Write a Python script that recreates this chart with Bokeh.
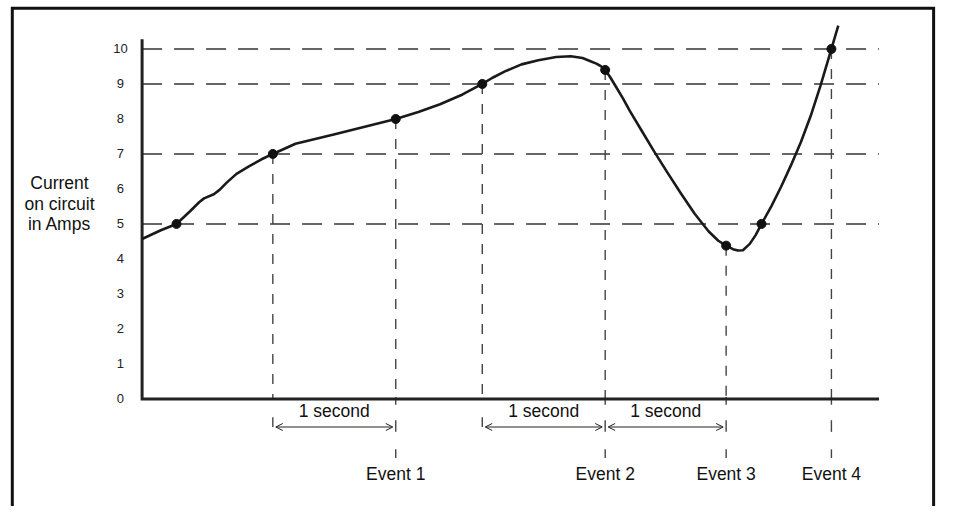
from bokeh.plotting import figure
from bokeh.models import Range1d, Arrow, OpenHead, ColumnDataSource
from bokeh.embed import file_html
from bokeh.resources import INLINE
from bokeh.core.properties import value

# ---------------- data (time in seconds, current in amps) ----------------
curve_t = [0.000, 0.153, 0.281, 0.394, 0.466, 0.506, 0.586, 0.635, 0.691, 0.771,
           0.876, 0.972, 1.068, 1.253, 1.574, 2.072, 2.257, 2.434, 2.618, 2.779,
           2.859, 2.964, 3.100, 3.237, 3.382, 3.502, 3.598, 3.663, 3.711, 3.751,
           3.783, 3.823, 3.871, 3.928, 3.984, 4.080, 4.185, 4.289, 4.402, 4.514,
           4.627, 4.707, 4.771, 4.827, 4.867, 4.908, 4.964, 5.012, 5.060, 5.141,
           5.221, 5.301, 5.382, 5.462, 5.542, 5.631, 5.687]
curve_amps = [4.57, 4.82, 5.00, 5.37, 5.62, 5.73, 5.85, 5.98, 6.18, 6.43,
              6.65, 6.84, 7.00, 7.29, 7.56, 8.00, 8.20, 8.42, 8.70, 9.00,
              9.17, 9.36, 9.56, 9.68, 9.77, 9.79, 9.74, 9.65, 9.58, 9.50,
              9.40, 9.20, 8.92, 8.59, 8.23, 7.67, 7.06, 6.48, 5.87, 5.29,
              4.79, 4.52, 4.38, 4.28, 4.24, 4.25, 4.43, 4.68, 5.00, 5.51,
              6.07, 6.68, 7.34, 8.09, 8.95, 10.00, 10.67]

point_t = [0.281, 1.068, 2.072, 2.779, 3.783, 4.771, 5.060, 5.631]
point_amps = [5.0, 7.0, 8.0, 9.0, 9.4, 4.38, 5.0, 10.0]

guide_levels = [5, 7, 9, 10]

start_t = [1.068, 2.779]          # interval starts (no event)
start_amps = [7.0, 9.0]
event_t = [2.072, 3.783, 4.771, 5.631]
event_amps = [8.0, 9.4, 4.38, 10.0]
event_labels = ["Event 1", "Event 2", "Event 3", "Event 4"]

interval_start = [1.068, 2.779, 3.783]
interval_end = [2.072, 3.783, 4.771]
interval_labels = ["1 second", "1 second", "1 second"]

y_ticks = [0, 1, 2, 3, 4, 5, 6, 7, 8, 9, 10]
y_tick_labels = [str(v) for v in y_ticks]
y_title = ["Current", "on circuit", "in Amps"]

t_axis_end = 6.02
amps_axis_top = 10.28

# ---------------- layout helpers (reference pixels -> data) ----------------
W, H = 940, 506          # canvas size
RW, RH = 956, 522        # reference picture size
PX_S = 124.5             # reference pixels per second
PX_A = 36.1              # reference pixels per amp
OX, OY = 144, 411        # origin position in the reference picture


def dx(px):
    return px / PX_S


def dy(px):
    return px / PX_A


p = figure(width=W, height=H, output_backend="svg", toolbar_location=None,
           x_axis_type=None, y_axis_type=None,
           x_range=Range1d(-dx(OX), dx(RW - OX)),
           y_range=Range1d(-dy(RH - OY), dy(OY)),
           min_border=0, outline_line_color=None)
p.grid.visible = False
p.background_fill_color = "white"
p.border_fill_color = "white"

FONT = value("Liberation Sans")
INK = "#1a1a1a"

# outer frame (open at the bottom, as in the cropped original)
fl, fr, ft, fb = -dx(OX - 12), dx(949 - OX), dy(OY - 8), -dy(RH + 10 - OY)
p.line(x=[fl, fl, fr, fr], y=[fb, ft, ft, fb], line_color="#111",
       line_width=3, line_join="miter")

# horizontal dashed guides
p.segment(x0=[0] * len(guide_levels), x1=[t_axis_end] * len(guide_levels),
          y0=guide_levels, y1=guide_levels,
          line_color="#333", line_width=1.6, line_dash="20 12")

# vertical dashed guides down to the axis
all_t = start_t + event_t
all_amps = start_amps + event_amps
p.segment(x0=all_t, x1=all_t, y0=all_amps, y1=[0] * len(all_t),
          line_color="#444", line_width=1.4, line_dash="10 10")

# short marks below the axis
p.segment(x0=event_t, x1=event_t, y0=[dy(2)] * 4, y1=[-dy(6)] * 4,
          line_color="#444", line_width=1.4)
p.segment(x0=start_t, x1=start_t, y0=[-dy(19)] * 2, y1=[-dy(29)] * 2,
          line_color="#444", line_width=1.4)
p.segment(x0=event_t, x1=event_t, y0=[-dy(22)] * 4, y1=[-dy(34)] * 4,
          line_color="#444", line_width=1.4)
p.segment(x0=event_t, x1=event_t, y0=[-dy(52)] * 4, y1=[-dy(61)] * 4,
          line_color="#444", line_width=1.4)

# axes
p.line(x=[0, 0, t_axis_end], y=[amps_axis_top, 0, 0], line_color="#222",
       line_width=3, line_join="miter")

# y tick labels
p.text(x=[-dx(22)] * len(y_ticks), y=y_ticks, text=y_tick_labels,
       text_align="center", text_baseline="middle", text_font=FONT,
       text_font_size="13px", text_color="#222")

# y title
p.text(x=[-dx(84)] * 3, y=[dy(OY - 188), dy(OY - 209.5), dy(OY - 231)], text=y_title,
       text_align="center", text_baseline="middle", text_font=FONT,
       text_font_size="17.5px", text_color="#111")

# curve and points
p.line(x=curve_t, y=curve_amps, line_color=INK, line_width=2.6, line_join="round")
p.scatter(x=point_t, y=point_amps, size=9, color="#111")

# interval arrows
arrow_src = ColumnDataSource(dict(
    x0=[s + dx(3) for s in interval_start],
    x1=[e - dx(3) for e in interval_end],
    y=[-dy(29)] * 3))
p.add_layout(Arrow(start=OpenHead(size=7, line_width=1, line_color="#222"),
                   end=OpenHead(size=7, line_width=1, line_color="#222"),
                   x_start="x0", y_start="y", x_end="x1", y_end="y",
                   source=arrow_src, line_width=1, line_color="#222"))

p.text(x=[(s + e) / 2 for s, e in zip(interval_start, interval_end)],
       y=[-dy(12)] * 3, text=interval_labels, text_align="center",
       text_baseline="middle", text_font=FONT, text_font_size="17.5px",
       text_color="#111")

# event labels
p.text(x=event_t, y=[-dy(77)] * 4, text=event_labels, text_align="center",
       text_baseline="middle", text_font=FONT, text_font_size="17.5px",
       text_color="#111")

open("out.html", "w").write(file_html(p, INLINE))
